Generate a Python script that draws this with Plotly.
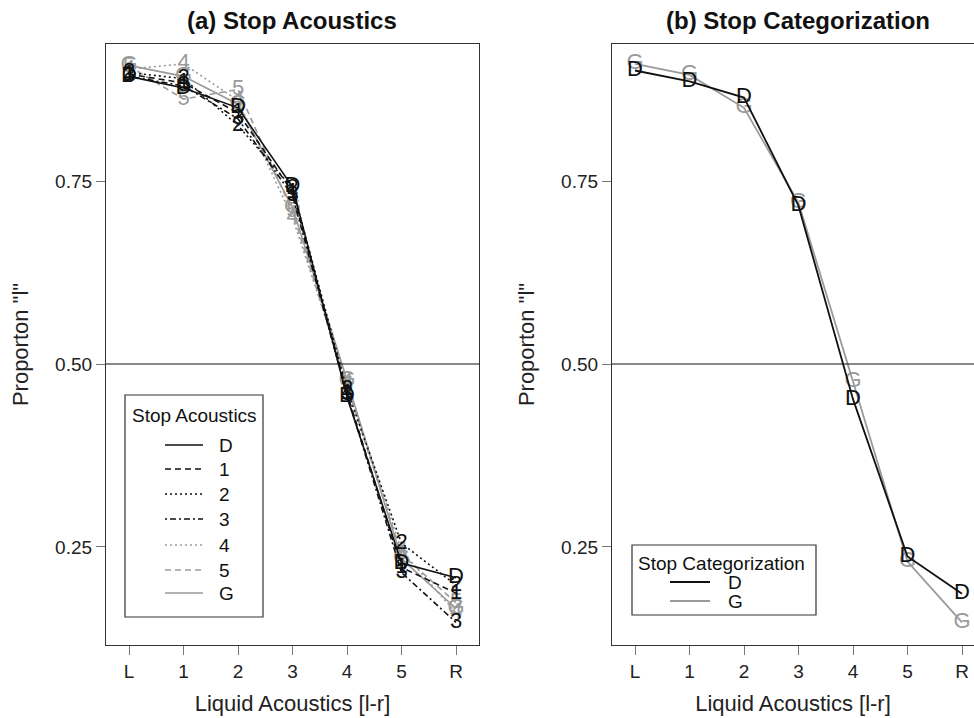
import plotly.graph_objects as go

# ---------------- data ----------------
x_cats = ["L", "1", "2", "3", "4", "5", "R"]
y_ticks = [0.25, 0.50, 0.75]
y_ticktext = ["0.25", "0.50", "0.75"]

# panel (a) Stop Acoustics
a_labels = ["D", "1", "2", "3", "4", "5", "G"]
a_D = [0.893, 0.877, 0.850, 0.742, 0.455, 0.228, 0.208]
a_1 = [0.896, 0.884, 0.843, 0.735, 0.460, 0.222, 0.187]
a_2 = [0.898, 0.890, 0.826, 0.740, 0.465, 0.255, 0.198]
a_3 = [0.893, 0.880, 0.835, 0.730, 0.458, 0.215, 0.147]
a_4 = [0.903, 0.910, 0.860, 0.700, 0.475, 0.245, 0.160]
a_5 = [0.907, 0.862, 0.875, 0.708, 0.470, 0.240, 0.174]
a_G = [0.908, 0.893, 0.855, 0.714, 0.478, 0.234, 0.166]

# panel (b) Stop Categorization
b_labels = ["D", "G"]
b_D = [0.901, 0.886, 0.864, 0.716, 0.452, 0.237, 0.186]
b_G = [0.910, 0.895, 0.850, 0.720, 0.476, 0.230, 0.147]

# ---------------- styles ----------------
BLACK = "#111111"
GRAY = "#9a9a9a"
DASH = "6px,4px"
DOT = "2px,3px"
DOTDASH = "2px,3px,6px,3px"
styles = {
    "D": (BLACK, "solid"),
    "1": (BLACK, DASH),
    "2": (BLACK, DOT),
    "3": (BLACK, DOTDASH),
    "4": (GRAY, DOT),
    "5": (GRAY, DASH),
    "G": (GRAY, "solid"),
}
FONT = "Liberation Sans, Arial, Helvetica, sans-serif"
W, H = 974, 718


def px(x):
    return x / W


def py(y):
    return 1 - y / H


xpos = list(range(len(x_cats)))
fig = go.Figure()

a_series = dict(zip(a_labels, [a_D, a_1, a_2, a_3, a_4, a_5, a_G]))
for lab in ["G", "5", "4", "3", "2", "1", "D"]:
    col, dash = styles[lab]
    fig.add_trace(go.Scatter(
        x=xpos, y=a_series[lab], mode="lines+text", text=[lab] * len(xpos),
        textposition="middle center",
        textfont=dict(family=FONT, size=22, color=col),
        line=dict(color=col, width=1.6, dash=dash),
        xaxis="x", yaxis="y", showlegend=False, hoverinfo="skip"))

b_series = dict(zip(b_labels, [b_D, b_G]))
for lab in ["G", "D"]:
    col, dash = styles[lab]
    fig.add_trace(go.Scatter(
        x=xpos, y=b_series[lab], mode="lines+text", text=[lab] * len(xpos),
        textposition="middle center",
        textfont=dict(family=FONT, size=22, color=col),
        line=dict(color=col, width=1.8, dash=dash),
        xaxis="x2", yaxis="y2", showlegend=False, hoverinfo="skip"))

# ---------------- axes ----------------
ax_common = dict(
    tickvals=xpos, ticktext=x_cats, ticks="outside", ticklen=9, tickwidth=1,
    tickcolor="#777777", showgrid=False, zeroline=False,
    showline=True, linecolor="#333333", linewidth=1.2,
    tickfont=dict(family=FONT, size=19, color="#222222"),
    title=dict(text="Liquid Acoustics [l-r]", standoff=14,
               font=dict(family=FONT, size=22, color="#222222")),
)
ay_common = dict(
    tickvals=y_ticks, ticktext=y_ticktext, ticks="outside", ticklen=9, tickwidth=1,
    tickcolor="#777777", showgrid=False, zeroline=False,
    showline=True, linecolor="#333333", linewidth=1.2,
    tickfont=dict(family=FONT, size=19, color="#222222"),
    title=dict(text='Proporton "l"', standoff=20,
               font=dict(family=FONT, size=22, color="#222222")),
    range=[0.1161, 0.9372],
)

y_dom = [py(645), py(44)]
fig.update_layout(
    xaxis=dict(ax_common, domain=[px(106), px(479)], range=[-0.422, 6.422],
               mirror=True, anchor="y"),
    yaxis=dict(ay_common, domain=y_dom, mirror=True, anchor="x"),
    xaxis2=dict(ax_common, domain=[px(612), 1.0], range=[-0.422, 6.22],
                mirror=True, anchor="y2"),
    yaxis2=dict(ay_common, domain=y_dom, mirror=False, anchor="x2"),
)

shapes = []
shapes.append(dict(type="line", xref="x domain", yref="y", x0=0, x1=1, y0=0.5, y1=0.5,
                   line=dict(color=BLACK, width=1.2)))
shapes.append(dict(type="line", xref="x2 domain", yref="y2", x0=0, x1=1, y0=0.5, y1=0.5,
                   line=dict(color=BLACK, width=1.2)))

annotations = []


def label(text, x, y, size, anchor="left"):
    annotations.append(dict(text=text, x=px(x), y=py(y), xref="paper", yref="paper",
                            xanchor=anchor, yanchor="middle", showarrow=False,
                            font=dict(family=FONT, size=size, color="#111111")))


label("<b>(a) Stop Acoustics</b>", 292, 20, 24, "center")
label("<b>(b) Stop Categorization</b>", 798, 20, 24, "center")

# legend (a)
shapes.append(dict(type="rect", xref="paper", yref="paper",
                   x0=px(125), x1=px(263), y0=py(617), y1=py(395),
                   line=dict(color="#333333", width=1.2), fillcolor="white", layer="above"))
label("Stop Acoustics", 130, 415, 19)
leg_y = [445, 469, 494, 519, 545, 570, 593]
for lab, yy in zip(a_labels, leg_y):
    col, dash = styles[lab]
    shapes.append(dict(type="line", xref="paper", yref="paper",
                       x0=px(165), x1=px(203), y0=py(yy), y1=py(yy),
                       line=dict(color=col, width=1.6, dash=dash), layer="above"))
    label(lab, 217, yy, 19)

# legend (b)
shapes.append(dict(type="rect", xref="paper", yref="paper",
                   x0=px(632), x1=px(816), y0=py(615), y1=py(545),
                   line=dict(color="#333333", width=1.2), fillcolor="white", layer="above"))
label("Stop Categorization", 636, 563, 19)
for lab, yy in zip(b_labels, [582, 601]):
    col, dash = styles[lab]
    shapes.append(dict(type="line", xref="paper", yref="paper",
                       x0=px(670), x1=px(710), y0=py(yy), y1=py(yy),
                       line=dict(color=col, width=1.8, dash=dash), layer="above"))
    label(lab, 726, yy, 19)

fig.update_layout(
    width=W, height=H, margin=dict(l=0, r=0, t=0, b=0),
    paper_bgcolor="white", plot_bgcolor="white",
    shapes=shapes, annotations=annotations, showlegend=False,
)

fig.write_html("out.html", config={"displayModeBar": False},
               post_script="document.body.style.margin='0px';document.body.style.overflow='hidden';")
